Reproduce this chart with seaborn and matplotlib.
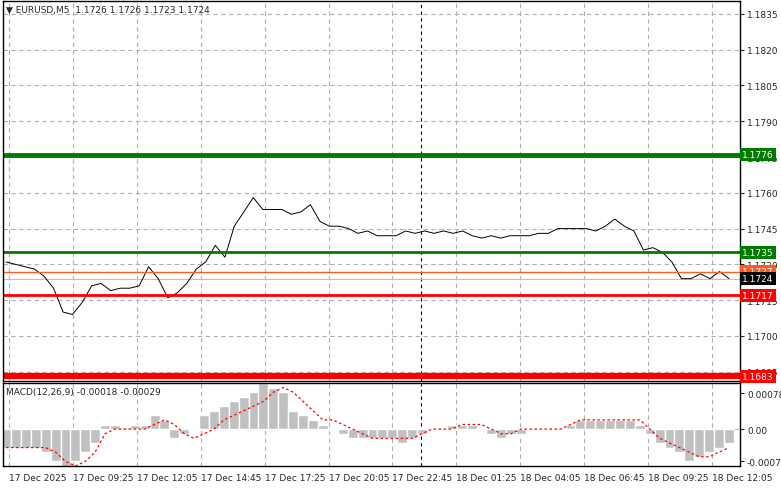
import matplotlib
matplotlib.use("Agg")
import matplotlib.pyplot as plt
import matplotlib.transforms as mtransforms
import seaborn as sns
import numpy as np
import pandas as pd

sns.set_style("white")
plt.rcParams['font.family'] = ['DejaVu Sans']

# data (sampled roughly every 5 bars of M5)
price = [1.1731,1.1730,1.1729,1.1728,1.1725,1.1720,1.1710,1.1709,1.1714,1.1721,1.1722,1.1719,1.1720,1.1720,1.1721,1.1729,1.1724,1.1716,1.1718,1.1722,1.1728,1.1731,1.1738,1.1733,1.1746,1.1752,1.1758,1.1753,1.1753,1.1753,1.1751,1.1752,1.1755,1.1748,1.1746,1.1746,1.1745,1.1743,1.1744,1.1742,1.1742,1.1742,1.1744,1.1743,1.1744,1.1743,1.1744,1.1743,1.1744,1.1742,1.1741,1.1742,1.1741,1.1742,1.1742,1.1742,1.1743,1.1743,1.1745,1.1745,1.1745,1.1745,1.1744,1.1746,1.1749,1.1746,1.1744,1.1736,1.1737,1.1735,1.1731,1.1724,1.1724,1.1726,1.1724,1.1727,1.1724]
macd_hist = [-0.0004,-0.0004,-0.0004,-0.0004,-0.0005,-0.0007,-0.0009,-0.0007,-0.0005,-0.0003,0.0001,0.0001,0.00005,0.00008,0.0001,0.0003,0.0002,-0.0002,-0.0001,0.0,0.0003,0.0004,0.0005,0.0006,0.0007,0.0008,0.0010,0.0009,0.0008,0.0004,0.0003,0.0002,0.0001,0.0,-0.0001,-0.0002,-0.0002,-0.0002,-0.0002,-0.0002,-0.0003,-0.0002,-0.0001,0.0,0.0,0.0001,0.0001,0.0001,0.0,-0.0001,-0.0002,-0.0001,-0.0001,0.0,0.0,0.0,0.0,0.0001,0.0002,0.0002,0.0002,0.0002,0.0002,0.0002,0.0001,-0.0001,-0.0003,-0.0004,-0.0005,-0.0007,-0.0006,-0.0005,-0.0004,-0.0003]
macd_signal = [-0.0004,-0.0004,-0.0004,-0.0004,-0.0004,-0.0005,-0.0007,-0.0008,-0.0007,-0.0005,-0.0001,0.0,0.0,0.0,0.0,0.0001,0.0002,0.0001,-0.0001,-0.0002,-0.0001,0.0,0.0002,0.0003,0.0004,0.0005,0.0006,0.0008,0.0009,0.0008,0.0006,0.0004,0.0002,0.0002,0.0001,0.0,-0.0001,-0.0002,-0.0002,-0.0002,-0.0002,-0.0002,-0.0001,0.0,0.0,0.0,0.0001,0.0001,0.0001,0.0,-0.0001,-0.0001,0.0,0.0,0.0,0.0,0.0,0.0001,0.0002,0.0002,0.0002,0.0002,0.0002,0.0002,0.0002,0.0,-0.0002,-0.0003,-0.0004,-0.0005,-0.0006,-0.0006,-0.0005,-0.0004]
last_bar = 362
n = len(price)
bars = np.round(np.arange(n) * last_bar / (n - 1), 1)
nh = len(macd_hist)
hbars = np.round(np.arange(nh) * last_bar / (nh - 1), 1)
xlabels = ["17 Dec 2025","17 Dec 09:25","17 Dec 12:05","17 Dec 14:45","17 Dec 17:25","17 Dec 20:05",
           "17 Dec 22:45","18 Dec 01:25","18 Dec 04:05","18 Dec 06:45","18 Dec 09:25","18 Dec 12:05"]
price_ticks = [1.1835,1.1820,1.1805,1.1790,1.1775,1.1760,1.1745,1.1730,1.1715,1.1700,1.1685]
levels = [(1.1776,"#007b00",3.5),(1.1735,"#007b00",2),(1.1727,"#ff6020",1),(1.1717,"#ff0000",2),(1.1683,"#ff0000",4.5)]
level_box = ["#007b00","#007b00","#ff5a1e","#ff0000","#ff0000"]
macd_ticks = [0.00078,0.0,-0.0007]
macd_tick_labels = ["0.00078","0.00","-0.0007"]

W, H = 781, 489
fig = plt.figure(figsize=(W/100, H/100), dpi=100)
L, R = 3/W, 740/W
ax = fig.add_axes([L, 1-382/H, R-L, 380/H])
ax2 = fig.add_axes([L, 1-467/H, R-L, 83/H], sharex=ax)

df = pd.DataFrame({"bar": bars, "price": price})
sns.lineplot(data=df, x="bar", y="price", ax=ax, color="black", lw=0.7)
ax.set_ylim(1.16811, 1.18404)
ax.set_xlim(-1.5, 367.5)
tickpos = [1.5 + 32*k for k in range(len(xlabels))]
FS = 6.5
for a in (ax, ax2):
    a.set_xticks(tickpos)
    for p in tickpos:
        a.axvline(p, color="#b0b0b0", ls=(0, (4, 3)), lw=0.8, zorder=0)
    a.axvline(208, color="black", ls=(0, (3, 3)), lw=0.8, zorder=1)
    a.yaxis.tick_right()
    a.set_xlabel(""); a.set_ylabel("")
    for s in a.spines.values():
        s.set_color("black"); s.set_linewidth(1)
    a.tick_params(axis="y", length=3, pad=2, labelsize=FS)
ax.set_yticks(price_ticks)
ax.set_yticklabels([f"{t:.4f}" for t in price_ticks])
for t in price_ticks:
    ax.axhline(t, color="#b0b0b0", ls=(0, (4, 3)), lw=0.8, zorder=0)
plt.setp(ax.get_xticklabels(), visible=False)
ax.tick_params(axis="x", length=0)
trans = mtransforms.blended_transform_factory(ax.transAxes, ax.transData)
for (lv, c, w), bc in zip(levels, level_box):
    ax.axhline(lv, color=c, lw=w, zorder=2)
    ax.text(1.003, lv, f"{lv:.4f}", transform=trans, fontsize=FS, color="white", va="center", ha="left",
            bbox=dict(boxstyle="square,pad=0.25", fc=bc, ec="none"), zorder=5, clip_on=False)
ax.text(1.003, price[-1], f"{price[-1]:.4f}", transform=trans, fontsize=FS, color="white", va="center", ha="left",
        bbox=dict(boxstyle="square,pad=0.25", fc="black", ec="none"), zorder=6, clip_on=False)
ax.axhline(price[-1], color="#c0c0c0", lw=0.8, zorder=1)
ax.text(0.004, 0.99, "▼ EURUSD,M5  1.1726 1.1726 1.1723 1.1724", transform=ax.transAxes, fontsize=FS,
        va="top", ha="left")

ax2.bar(hbars, macd_hist, width=5, color="#c0c0c0", align="center", zorder=2)
ax2.plot(hbars, macd_signal, color="red", ls=(0, (2, 2)), lw=0.9, zorder=3)
ax2.set_ylim(-0.0008, 0.0010)
ax2.set_yticks(macd_ticks)
ax2.set_yticklabels(macd_tick_labels)
ax2.axhline(0, color="#b0b0b0", ls=(0, (4, 3)), lw=0.8, zorder=0)
ax2.set_xticklabels(xlabels, fontsize=FS, ha="left")
ax2.tick_params(axis="x", length=3, pad=2)
ax2.text(0.004, 0.95, "MACD(12,26,9) -0.00018 -0.00029", transform=ax2.transAxes, fontsize=FS, va="top", ha="left")

fig.savefig("out.png", dpi=100, facecolor="white")
